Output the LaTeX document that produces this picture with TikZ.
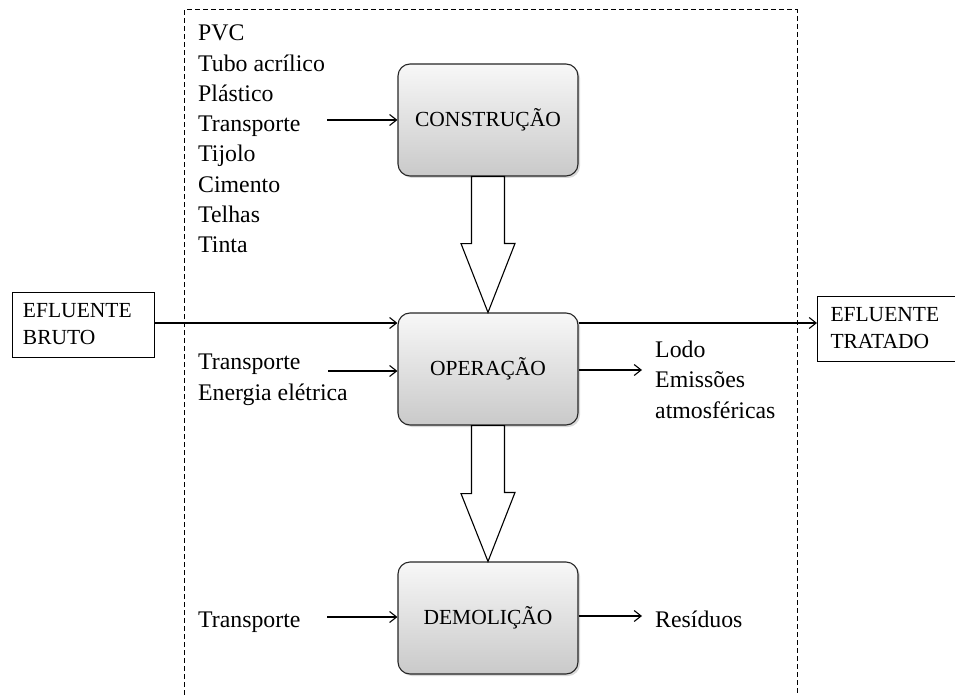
\documentclass[tikz,border=0pt]{standalone}
\usepackage{fontspec}
\setmainfont{Liberation Serif}
\usetikzlibrary{arrows.meta,calc,shadows}
\begin{document}
\begin{tikzpicture}[x=1pt,y=-1pt,
  font=\fontsize{21.5}{30.3}\selectfont,
  stage/.style={draw=black!85, line width=1.1pt, rounded corners=12pt,
    top color=gray!6, bottom color=gray!42,
    minimum width=180pt, minimum height=112pt,
    drop shadow={shadow xshift=2pt,shadow yshift=-2pt,opacity=0.3}},
  endbox/.style={draw, line width=1pt, align=left, inner xsep=11pt, inner ysep=0pt,
    minimum height=65pt, font=\fontsize{21.5}{27}\selectfont},
  txt/.style={anchor=base west, inner sep=0pt, align=left, font=\fontsize{23.8}{30.3}\selectfont},
  flow/.style={line width=1.1pt, -{Straight Barb[length=7pt,width=11pt]}},
  blockarrow/.style={draw, line width=1.1pt, fill=white, line join=miter},
  boundary/.style={line width=1pt, dash pattern=on 5pt off 3pt}
]
\useasboundingbox (0,0) rectangle (955,695);
\clip (0,0) rectangle (955,695);

% system boundary
\draw[boundary] (184,695) -- (184,10) -- (797,10) -- (797,695);

% stages
\node[stage] (con) at (488,120) {CONSTRUÇÃO};
\node[stage] (op)  at (488,369) {OPERAÇÃO};
\node[stage] (dem) at (488,618) {DEMOLIÇÃO};

% block arrows
\draw[blockarrow] ($(con.south)+(-16.5,0)$) -- ++(0,67) -- ++(-10.5,0)
  -- (op.north) -- ($(op.north)+(27,-69)$) -- ++(-10.5,0)
  -- ($(con.south)+(16.5,0)$) -- cycle;
\draw[blockarrow] ($(op.south)+(-16.5,0)$) -- ++(0,68) -- ++(-10.5,0)
  -- (dem.north) -- ($(dem.north)+(27,-69)$) -- ++(-10.5,0)
  -- ($(op.south)+(16.5,0)$) -- cycle;

% effluent boxes
\node[endbox, text width=120pt] (bruto) at (83,324.5) {EFLUENTE\\BRUTO};
\node[endbox, text width=130pt, inner xsep=13pt, anchor=west] (trat) at (817,328.5) {EFLUENTE\\TRATADO};

\draw[flow] (bruto.east |- 0,323) -- (op.west |- 0,323);
\draw[flow] (op.east |- 0,323) -- (trat.west |- 0,323);

% inputs / outputs (base anchor = last line baseline)
\node[txt] (mats) at (198,252.8) {PVC\\Tubo acrílico\\Plástico\\Transporte\\Tijolo\\Cimento\\Telhas\\Tinta};
\coordinate (cin) at (327,120);
\draw[flow] (cin) -- (con.west);

\node[txt] (opin) at (198,400) {Transporte\\Energia elétrica};
\coordinate (oin) at (328,371);
\draw[flow] (oin) -- (oin -| op.west);

\node[txt] (opout) at (655,418) {Lodo\\Emissões\\atmosféricas};
\coordinate (oout) at (642,370);
\draw[flow] (op.east |- oout) -- (oout);

\node[txt] (demin) at (198,627) {Transporte};
\coordinate (din) at (327,617);
\draw[flow] (din) -- (din -| dem.west);

\node[txt] (demout) at (655,627) {Resíduos};
\coordinate (dout) at (642,616);
\draw[flow] (dem.east |- dout) -- (dout);
\end{tikzpicture}
\end{document}
